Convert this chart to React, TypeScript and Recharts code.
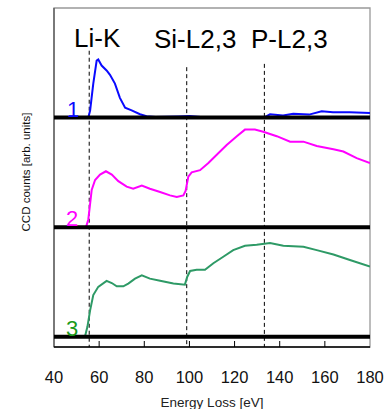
import { LineChart, Line, XAxis, YAxis, ReferenceLine, ReferenceArea } from "recharts";

// spectrum 1 (blue), energies in eV and counts relative to its own baseline
const energy1 = [40, 55.2, 56, 57.4, 58.9, 59.6, 61.1, 63.3, 64.8, 67, 69.2, 71.5, 74.4, 78.1, 81, 85, 95, 100, 105, 115, 125, 133, 135.7, 141.5, 146, 153, 158.6, 163.6, 171, 180];
const counts1 = [0, 0, 0.065, 0.31, 0.52, 0.53, 0.475, 0.43, 0.39, 0.31, 0.18, 0.09, 0.065, 0.03, 0.012, 0.005, 0.01, 0.014, 0.005, 0, 0, 0, 0.03, 0.02, 0.035, 0.027, 0.057, 0.048, 0.048, 0.042];

// spectrum 2 (magenta)
const energy2 = [40, 54.2, 55.2, 56.7, 58.2, 60.4, 63, 65.6, 68.5, 72.2, 75.1, 78.9, 82.5, 87, 91.4, 94.4, 97.3, 98.3, 99.5, 101, 104.7, 108.4, 112.1, 116.5, 121, 124.6, 129, 132.7, 138.7, 144.6, 150.5, 156.4, 163.8, 168.2, 174.1, 180];
const counts2 = [0, 0, 0.07, 0.34, 0.43, 0.48, 0.51, 0.48, 0.42, 0.37, 0.35, 0.38, 0.35, 0.32, 0.29, 0.275, 0.29, 0.33, 0.46, 0.5, 0.52, 0.585, 0.66, 0.75, 0.83, 0.89, 0.89, 0.87, 0.83, 0.78, 0.78, 0.74, 0.71, 0.69, 0.63, 0.585];

// spectrum 3 (green)
const energy3 = [40, 53.7, 54.8, 56, 57.4, 59.6, 63.3, 65.6, 67.8, 70.7, 72.9, 75.9, 78.9, 82.5, 87, 92.9, 98, 99, 100.3, 103.2, 106.9, 110.6, 115, 119.4, 124.6, 129.8, 135.7, 141.6, 146, 150.5, 156.4, 163.8, 171.1, 180];
const counts3 = [0, 0, 0.09, 0.24, 0.38, 0.455, 0.51, 0.49, 0.46, 0.46, 0.485, 0.53, 0.56, 0.53, 0.51, 0.485, 0.475, 0.545, 0.6, 0.61, 0.61, 0.67, 0.73, 0.79, 0.83, 0.84, 0.855, 0.83, 0.825, 0.82, 0.79, 0.75, 0.7, 0.64];

const xTicks = [40, 60, 80, 100, 120, 140, 160, 180];
const edges = [
  { name: "Li-K", e: 55.6, top: 2.61 },
  { name: "Si-L2,3", e: 98.8, top: 2.46 },
  { name: "P-L2,3", e: 133.2, top: 2.49 },
];

const build = (es: number[], cs: number[], offset: number) =>
  es.map((e, i) => ({ e, v: cs[i] + offset }));

const series = [
  { id: "1", color: "#0a0aff", labelColor: "#0a0aff", data: build(energy1, counts1, 2) },
  { id: "2", color: "#ff00ff", labelColor: "#ff00ff", data: build(energy2, counts2, 1) },
  { id: "3", color: "#2e9a66", labelColor: "#1a9a1a", data: build(energy3, counts3, 0) },
];

const Y_MIN = -0.094;
const Y_MAX = 3;
const font = "'Liberation Sans', Arial, sans-serif";

const EnergyTick = ({ x, y, payload }: { x: number; y: number; payload: { value: number } }) => (
  <g>
    {payload.value > 40 && payload.value < 180 && (
      <line x1={x} x2={x} y1={y} y2={y - 6} stroke="#000" strokeWidth={1} />
    )}
    <text x={x} y={y + 36} textAnchor="middle" fontSize={16.5} fontFamily={font} fill="#111">
      {payload.value}
    </text>
  </g>
);

export default function App() {
  return (
    <div style={{ position: "absolute", left: 0, top: 0, width: 389, height: 409, background: "#fff" }}>
      <LineChart width={389} height={409} margin={{ top: 8, right: 19, bottom: 0, left: 54 }}>
        <XAxis
          type="number" dataKey="e" domain={[40, 180]} ticks={xTicks} allowDataOverflow
          height={62} tickSize={0} tickMargin={0} tick={EnergyTick as any}
          axisLine={{ stroke: "#000", strokeWidth: 1.5 }} tickLine={false}
        />
        <YAxis type="number" domain={[Y_MIN, Y_MAX]} hide allowDataOverflow />
        <ReferenceArea x1={40} x2={180} y1={Y_MIN} y2={Y_MAX} fill="none" stroke="#999" strokeWidth={1.3} />
        <ReferenceLine x={40} stroke="#555" strokeWidth={1.3} />
        {edges.map(d => (
          <ReferenceLine
            key={d.name}
            segment={[{ x: d.e, y: d.top }, { x: d.e, y: Y_MIN }]}
            stroke="#000" strokeDasharray="4 3" strokeWidth={1}
          />
        ))}
        {series.map(s => (
          <Line
            key={s.id} data={s.data} dataKey="v" type="linear"
            stroke={s.color} strokeWidth={2} dot={false} isAnimationActive={false}
          />
        ))}
        {[0, 1, 2].map(b => (
          <ReferenceLine key={b} y={b} stroke="#000" strokeWidth={4} />
        ))}
      </LineChart>
      <svg width={389} height={409} style={{ position: "absolute", left: 0, top: 0, pointerEvents: "none" }}>
        <text x={74} y={47} fontSize={26} fontFamily={font} fill="#000">Li-K</text>
        <text x={154} y={48} fontSize={26} fontFamily={font} fill="#000">Si-L2,3</text>
        <text x={251} y={48} fontSize={26} fontFamily={font} fill="#000">P-L2,3</text>
        <text x={67} y={117} fontSize={22} fontFamily={font} fill={series[0].labelColor}>1</text>
        <text x={66} y={226} fontSize={22} fontFamily={font} fill={series[1].labelColor}>2</text>
        <text x={66} y={336} fontSize={22} fontFamily={font} fill={series[2].labelColor}>3</text>
        <text x={212} y={407} textAnchor="middle" fontSize={13.5} fontFamily={font} fill="#222">Energy Loss [eV]</text>
        <text
          x={0} y={0} transform="translate(30,172) rotate(-90)" textAnchor="middle"
          fontSize={11.5} fontFamily={font} fill="#111"
        >
          CCD counts [arb. units]
        </text>
      </svg>
    </div>
  );
}
